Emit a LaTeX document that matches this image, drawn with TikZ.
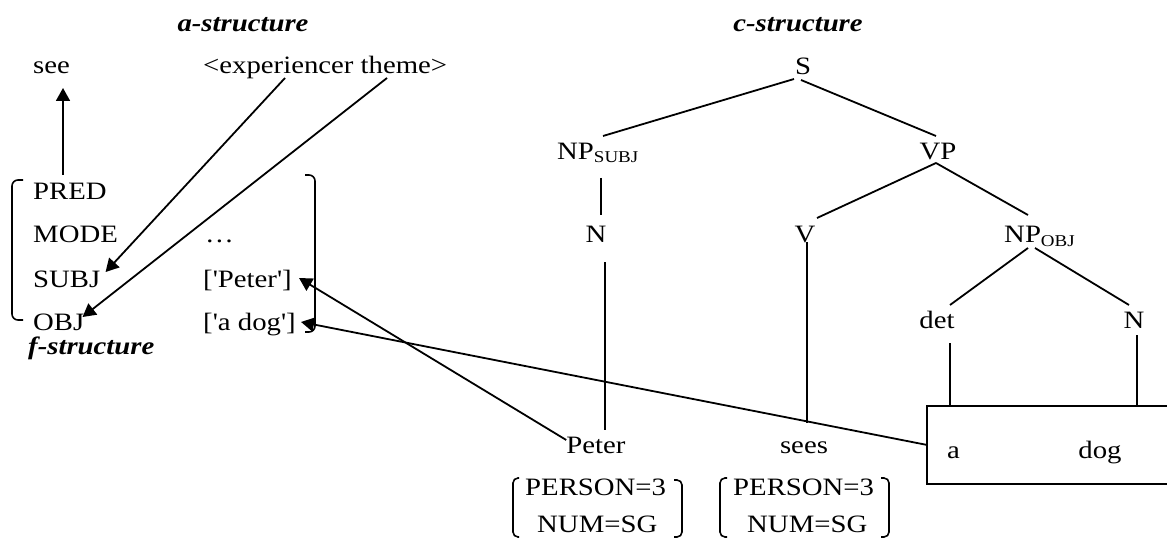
\documentclass[tikz,border=0pt]{standalone}
\usepackage{fontspec}
\setmainfont{Liberation Serif}
\usetikzlibrary{arrows.meta,calc}
\newcommand\subf{\fontsize{16.5}{18}\selectfont}
\newcommand\sq{\textquotesingle}
\begin{document}
\begin{tikzpicture}[x=1pt,y=-1pt,
  txt/.style={font=\fontsize{25}{30}\selectfont, inner sep=0pt, xscale=1.15, anchor=base west},
  ctr/.style={txt, anchor=base},
  ttl/.style={txt, font=\fontsize{25}{30}\selectfont\bfseries\itshape},
  ln/.style={line width=1.8pt},
  arr/.style={line width=1.8pt, -{Triangle[length=13pt,width=14pt]}},
  brk/.style={line width=1.6pt, rounded corners=6pt}]
\useasboundingbox (0,0) rectangle (1167,540);
% titles
\node[ttl, anchor=base] (ast) at (243,32) {a-structure};
\node[ttl, anchor=base] (cst) at (798,32) {c-structure};
\node[ttl] (fst) at (28,354) {f-structure};
% a-structure / f-structure
\node[txt] (see) at (33,74) {see};
\node[txt] (args) at (203,74) {<experiencer theme>};
\node[txt] (pred) at (33,200) {PRED};
\node[txt] (mode) at (33,243) {MODE};
\node[txt] (subj) at (33,287) {SUBJ};
\node[txt] (obj) at (33,330) {OBJ};
\node[txt] (dots) at (205,243) {…};
\node[txt] (fpeter) at (203,287) {[\sq Peter\sq]};
\node[txt] (fdog) at (203,330) {[\sq a dog\sq]};
\draw[brk] (23,180) -- (12,180) -- (12,320) -- (23,320);
\draw[brk] (305,175) -- (315,175) -- (315,332) -- (305,332);
% c-structure
\node[ctr] (S) at (803,75) {S};
\node[txt] (NPs) at (557,160) {NP\raisebox{-2.5pt}{\subf SUBJ}};
\node[ctr] (VP) at (938,160) {VP};
\node[ctr] (N1) at (596,243) {N};
\node[ctr] (V) at (805,243) {V};
\node[txt] (NPo) at (1004,243) {NP\raisebox{-3pt}{\subf OBJ}};
\node[ctr] (det) at (937,328) {det};
\node[ctr] (N2) at (1134,328) {N};
\node[ctr] (peter) at (596,453) {Peter};
\node[ctr] (sees) at (804,453) {sees};
\node[draw, line width=1.5pt, minimum width=260pt, minimum height=78pt, anchor=north west, inner sep=0pt] (box) at (926,405) {};
\node[txt] (a) at (947,458) {a};
\node[ctr] (dog) at (1100,458) {dog};
\node[txt] (p1) at (525,495) {PERSON=3};
\node[txt] (n1) at (537,532) {NUM=SG};
\node[txt] (p2) at (733,495) {PERSON=3};
\node[txt] (n2) at (747,532) {NUM=SG};
\draw[brk, rounded corners=5pt] (519,478) -- (513,478) -- (513,537) -- (519,537);
\draw[brk, rounded corners=5pt] (674,480) -- (682,480) -- (682,537) -- (674,537);
\draw[brk, rounded corners=5pt] (727,478) -- (720,478) -- (720,537) -- (727,537);
\draw[brk, rounded corners=5pt] (881,478) -- (889,478) -- (889,537) -- (881,537);
% tree lines
\draw[ln] ($(S.base)+(-9,4)$) -- ($(NPs.base west)+(46,-24)$);
\draw[ln] ($(S.base)+(-2,5)$) -- ($(VP.base)+(-2,-24)$);
\draw[ln] ($(NPs.base west)+(44,18)$) -- ($(N1.base)+(5,-28)$);
\draw[ln] ($(VP.base)+(-2,3)$) -- ($(V.base)+(12,-25)$);
\draw[ln] ($(VP.base)+(-2,3)$) -- ($(NPo.base west)+(24,-28)$);
\draw[ln] ($(NPo.base west)+(24,5)$) -- ($(det.base)+(13,-23)$);
\draw[ln] ($(NPo.base west)+(31,5)$) -- ($(N2.base)+(-5,-23)$);
\coordinate (dl) at ($(det.base)+(13,15)$);
\coordinate (nl) at ($(N2.base)+(3,7)$);
\draw[ln] (dl) -- (dl |- box.north);
\draw[ln] (nl) -- (nl |- box.north);
\draw[ln] ($(N1.base)+(9,19)$) -- ($(peter.base)+(9,-23)$);
\draw[ln] ($(V.base)+(2,-1)$) -- ($(sees.base)+(3,-30)$);
% arrows
\draw[arr] ($(pred.base west)+(30,-25)$) -- ($(see.base west)+(30,14)$);
\draw[arr] ($(args.base west)+(82,4)$) -- ($(subj.base east)+(5,-15)$);
\draw[arr] ($(args.base west)+(184,4)$) -- ($(obj.base east)+(-2,-13)$);
\draw[arr] ($(peter.base west)+(0,-13)$) -- ($(fpeter.base east)+(7,-9)$);
\draw[arr] (box.west) -- ($(fdog.base east)+(5,-8)$);
\end{tikzpicture}
\end{document}
